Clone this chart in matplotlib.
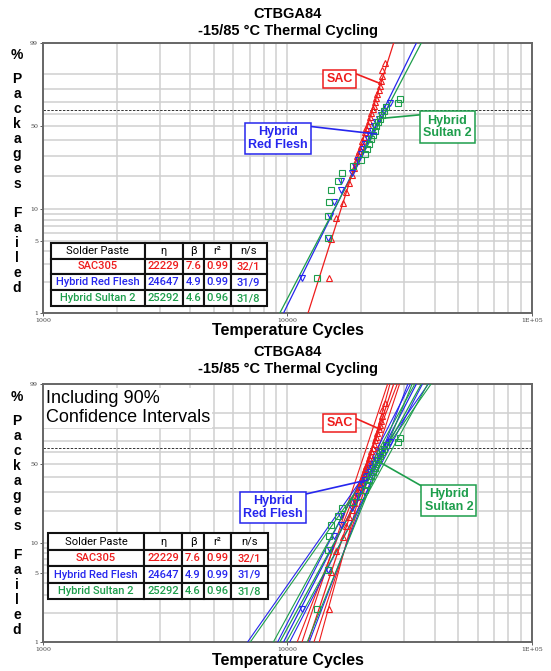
import numpy as np
import matplotlib
matplotlib.use("Agg")
import matplotlib.pyplot as plt

plt.rcParams['font.family'] = ['Liberation Sans', 'DejaVu Sans']

# ---- table values
pastes = ['SAC305', 'Hybrid Red Flesh', 'Hybrid Sultan 2']
eta = [22229, 24647, 25292]
beta = [7.6, 4.9, 4.6]
r2 = [0.99, 0.99, 0.96]
n_s = ['32/1', '31/9', '31/8']

# 90% confidence bounds
eta_lo = [21000, 23300, 23800]
eta_hi = [23500, 26100, 26900]
beta_lo = [6.5, 3.6, 3.6]
beta_hi = [9.2, 6.6, 6.2]

# ---- failure points (cycles, % failed)
sac_cycles = [14800, 15100, 15800, 16900, 17400, 17900, 18300, 18700, 19100, 19300,
              19700, 20000, 20200, 20500, 20800, 21000, 21300, 21500, 21800, 22000,
              22300, 22500, 22800, 23000, 23300, 23600, 23900, 24100, 24300, 24400, 25050]
sac_pct = [2.2, 5.2, 8.3, 11.4, 14.5, 17.6, 20.7, 23.8, 26.9, 29.9,
           33.0, 36.1, 39.2, 42.3, 45.4, 48.5, 51.5, 54.6, 57.7, 60.8,
           63.9, 67.0, 70.1, 73.1, 76.2, 79.3, 82.4, 85.5, 88.6, 91.7, 94.8]

rf_cycles = [11430, 14690, 14940, 15480, 16500, 16600, 18300, 18900, 19400, 19900,
             20300, 20800, 21300, 21800, 22200, 22600, 23100, 23600, 24100, 24700,
             25300, 26200]
rf_pct = [2.2, 5.4, 8.6, 11.8, 15.0, 18.2, 21.3, 24.5, 27.7, 30.9,
          34.1, 37.3, 40.4, 43.6, 46.8, 50.0, 53.2, 56.4, 59.6, 62.7,
          65.9, 69.1]

s2_cycles = [13240, 14600, 14690, 14800, 15060, 16130, 16680, 18600, 19900, 20700,
             21100, 21500, 21900, 22300, 22700, 23100, 23500, 23900, 24300, 24700,
             25400, 28400, 28800]
s2_pct = [2.2, 5.4, 8.6, 11.8, 15.0, 18.2, 21.3, 24.5, 27.7, 30.9,
          34.1, 37.3, 40.4, 43.6, 46.8, 50.0, 53.2, 56.4, 59.6, 62.7,
          65.9, 69.1, 72.3]

colors = ['#ee1c1c', '#2626ee', '#1e9e4c']
markers = ['^', 'v', 's']
points = [(sac_cycles, sac_pct), (rf_cycles, rf_pct), (s2_cycles, s2_pct)]


def fwd(p):
    p = np.clip(np.asarray(p, dtype=float), 1e-9, 100 - 1e-9)
    return np.log(-np.log(1 - p / 100))


def inv(y):
    return 100 * (1 - np.exp(-np.exp(y)))


def weib(cyc, e, b):
    return 100 * (1 - np.exp(-(cyc / e) ** b))


def panel(ax, ci, labels):
    ax.set_xscale('log')
    ax.set_yscale('function', functions=(fwd, inv))
    ax.set_xlim(1000, 100000)
    ax.set_ylim(1, 99)

    ax.set_xticks([1000, 10000, 100000])
    ax.set_xticklabels(['1000', '10000', '1E+05'])
    ax.set_xticks([k * m for m in (1000, 10000) for k in range(2, 10)], minor=True)
    ax.set_yticks([1, 5, 10, 50, 99])
    ax.set_yticklabels(['1', '5', '10', '50', '99'])
    ax.set_yticks([2, 3, 4, 6, 7, 8, 9, 20, 30, 40, 60, 70, 80, 90], minor=True)
    ax.tick_params(which='major', labelsize=4.5, length=2.5, width=0.6, pad=1,
                   colors='#444444', labelfontfamily='DejaVu Serif')
    ax.tick_params(which='minor', length=0, labelleft=False, labelbottom=False)
    ax.grid(which='both', color='#d0d0d0', lw=1.1)
    for s in ax.spines.values():
        s.set_color('#666666')
        s.set_linewidth(1.4)
    ax.axhline(63.2, color='#333333', lw=0.7, ls=(0, (2.5, 1.5)), zorder=2)

    cyc = np.geomspace(1000, 100000, 400)
    for i in range(3):
        ax.plot(cyc, weib(cyc, eta[i], beta[i]), color=colors[i], lw=0.9, zorder=3)
        if ci:
            for e, b in [(eta_lo[i], beta[i]), (eta_hi[i], beta[i]),
                         (eta[i], beta_lo[i]), (eta[i], beta_hi[i])]:
                ax.plot(cyc, weib(cyc, e, b), color=colors[i], lw=0.8, zorder=3)
        ax.plot(points[i][0], points[i][1], ls='none', marker=markers[i], ms=4.5,
                mfc='none', mec=colors[i], mew=0.8, zorder=4)

    # legend table
    rows = [[pastes[i], f'{eta[i]}', f'{beta[i]}', f'{r2[i]:.2f}', n_s[i]] for i in range(3)]
    tbl = ax.table(cellText=rows, colLabels=['Solder Paste', 'η', 'β', 'r²', 'n/s'],
                   colWidths=[94, 38, 21, 27, 36], cellLoc='center', bbox=labels['table'])
    tbl.auto_set_font_size(False)
    tbl.set_zorder(6)
    for (r, c), cell in tbl.get_celld().items():
        cell.set_edgecolor('#111111')
        cell.set_linewidth(1.5)
        cell.set_facecolor('white')
        t = cell.get_text()
        t.set_fontfamily(['Roboto', 'DejaVu Sans'])
        t.set_fontsize(8)
        if r == 0:
            t.set_color('black')
        else:
            t.set_color(colors[r - 1])
            t.set_fontweight('medium')

    # call-out boxes
    for i, (txt, xy, xyt, rel) in enumerate(labels['callouts']):
        ax.annotate(txt, xy=xy, xycoords='data', xytext=xyt, textcoords='axes fraction',
                    ha='center', va='center', color=colors[i], fontsize=9,
                    fontweight='bold', linespacing=1.1, zorder=7,
                    bbox=dict(boxstyle='square,pad=0.25', fc='white', ec=colors[i], lw=1.1),
                    arrowprops=dict(arrowstyle='-', color=colors[i], lw=1.2,
                                    relpos=rel, shrinkA=0, shrinkB=0))


fig = plt.figure(figsize=(5.51, 6.71), dpi=100)
ax1 = fig.add_axes([0.0780, 0.5335, 0.8875, 0.4024])
ax2 = fig.add_axes([0.0780, 0.0432, 0.8875, 0.3845])

panel(ax1, False, {
    'table': [0.0157, 0.0259, 0.4417, 0.2345],
    'callouts': [('SAC', (24280, 83.7), (0.607, 0.868), (1, 1)),
                 ('Hybrid\nRed Flesh', (23170, 44.2), (0.481, 0.646), (1, 1)),
                 ('Hybrid\nSultan 2', (24510, 56.6), (0.827, 0.689), (0, 1))],
})
panel(ax2, True, {
    'table': [0.0108, 0.1655, 0.4487, 0.2558],
    'callouts': [('SAC', (24280, 78.7), (0.607, 0.848), (1, 1)),
                 ('Hybrid\nRed Flesh', (21210, 37.6), (0.470, 0.5225), (1, 1)),
                 ('Hybrid\nSultan 2', (24280, 50.4), (0.830, 0.550), (0, 1))],
})
ax2.text(0.006, 0.977, 'Including 90%\nConfidence Intervals', transform=ax2.transAxes,
         ha='left', va='top', fontsize=13, linespacing=1.15, zorder=7,
         bbox=dict(boxstyle='square,pad=0.1', fc='white', ec='none'))

# titles and axis names
W, H = 551, 671
for top, bottom in [(0, 331), (338, 661)]:
    fig.text(287.5 / W, 1 - (top + 14) / H, 'CTBGA84', ha='center', va='center',
             fontsize=10.5, fontweight='bold')
    fig.text(287.5 / W, 1 - (top + 31) / H, '-15/85 °C Thermal Cycling', ha='center',
             va='center', fontsize=10.5, fontweight='bold')
    fig.text(287.5 / W, 1 - bottom / H, 'Temperature Cycles', ha='center', va='center',
             fontsize=11.5, fontweight='bold')

for y0 in (55, 397):
    fig.text(17 / W, 1 - y0 / H, '%', ha='center', va='center', fontsize=10, fontweight='bold')
    for k, ch in enumerate('Packages'):
        fig.text(17 / W, 1 - (y0 + 24 + 15 * k) / H, ch, ha='center', va='center',
                 fontsize=10, fontweight='bold')
    for k, ch in enumerate('Failed'):
        fig.text(17 / W, 1 - (y0 + 158 + 15 * k) / H, ch, ha='center', va='center',
                 fontsize=10, fontweight='bold')

fig.savefig('out.png', dpi=100)
